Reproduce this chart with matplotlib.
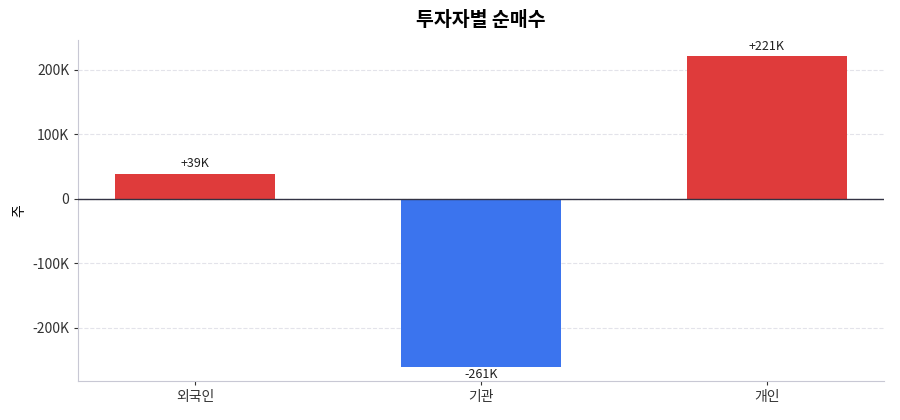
import matplotlib.pyplot as plt

plt.rcParams['font.family'] = ['Noto Sans CJK KR', 'DejaVu Sans']

investors = ['외국인', '기관', '개인']
net_buy = [39000, -261000, 221000]
labels = ['+39K', '-261K', '+221K']

fig, ax = plt.subplots(figsize=(9, 4.2), dpi=100)
fig.subplots_adjust(left=0.087, right=0.982, top=0.905, bottom=0.093)

colors = ['#DF3B3B' if v > 0 else '#3B74EE' for v in net_buy]
x = range(len(investors))
ax.bar(x, net_buy, width=0.56, color=colors, zorder=2)
for i, (v, t) in enumerate(zip(net_buy, labels)):
    if v > 0:
        ax.text(i, v + 5000, t, ha='center', va='bottom', fontsize=9, color='#222222')
    else:
        ax.text(i, v - 1500, t, ha='center', va='top', fontsize=9, color='#222222')

ax.axhline(0, color='#333344', linewidth=1, zorder=3)
ax.set_xticks(list(x))
ax.set_xticklabels(investors, fontsize=10)
ax.set_xlim(-0.41, 2.41)
ax.set_ylim(-282000, 246000)
ax.set_yticks([-200000, -100000, 0, 100000, 200000])
ax.set_yticklabels(['-200K', '-100K', '0', '100K', '200K'], fontsize=10)
ax.set_ylabel('주', fontsize=10)
ax.grid(axis='y', linestyle='--', color='#e3e3ea', zorder=0)
for s in ['top', 'right']:
    ax.spines[s].set_visible(False)
for s in ['left', 'bottom']:
    ax.spines[s].set_color('#c8c8d4')
ax.tick_params(colors='#333333', length=3)
ax.set_title('투자자별 순매수', fontsize=14, fontweight='bold', pad=10)

fig.savefig('out.png')
